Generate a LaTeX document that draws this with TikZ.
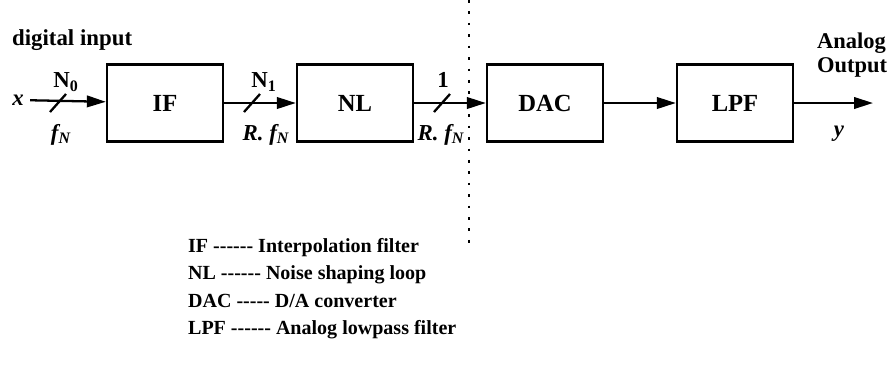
\documentclass[tikz,border=0pt]{standalone}
\usepackage{fontspec}
\newfontfamily\serif{Liberation Serif}
\usetikzlibrary{arrows.meta}

\begin{document}
\begin{tikzpicture}[
    x=0.2mm, y=-0.2mm,
    >={Triangle[length=3.8mm,width=2.3mm]},
    line width=1.3pt,
    every node/.style={font=\serif\bfseries, inner sep=0pt},
    block/.style={draw, minimum width=23.2mm, minimum height=15.4mm,
                  font=\serif\bfseries\fontsize{14}{16}\selectfont},
    lbl/.style={font=\serif\bfseries\fontsize{13}{15}\selectfont},
    sig/.style={font=\serif\bfseries\itshape\fontsize{13}{15}\selectfont},
    legend/.style={anchor=base west, font=\serif\bfseries\fontsize{11.4}{13}\selectfont}
]
  \useasboundingbox (0,0) rectangle (890,378);

  % blocks
  \node[block] (IF)  at (165,103) {IF};
  \node[block] (NL)  at (355,103) {NL};
  \node[block] (DAC) at (545,103) {DAC};
  \node[block] (LPF) at (735,103) {LPF};

  % ends
  \node[sig, inner sep=3pt] (x) at (18,100) {x};
  \coordinate (out) at (873,103);
  \node[lbl, anchor=west] (din) at (11,40) {digital input};
  \node[lbl, anchor=north west, align=left, font=\serif\bfseries\fontsize{12.8}{13.5}\selectfont]
       (aout) at (816,32) {Analog\\Output};
  \node[sig] (y) at (839,134) {y};

  % bus labels
  \node[lbl] (n0)  at (66,82)   {N\textsubscript{0}};
  \node[sig] (fn0) at (61,135)  {f\textsubscript{N}};
  \node[lbl] (n1)  at (264,82)  {N\textsubscript{1}};
  \node[sig] (fn1) at (266,135) {R. f\textsubscript{N}};
  \node[lbl] (n2)  at (443,80)  {1};
  \node[sig] (fn2) at (441,135) {R. f\textsubscript{N}};

  % edges
  \draw[->] (x) -- (IF);
  \draw[->] (IF) -- (NL);
  \draw[->] (NL) -- (DAC);
  \draw[->] (DAC) -- (LPF);
  \draw[->] (LPF) -- (out);

  % bus slashes
  \coordinate (s0) at (58,103);
  \coordinate (s1) at (252,103);
  \coordinate (s2) at (442,103);
  \draw (s0) ++(-8,9) -- ++(16,-18);
  \draw (s1) ++(-8,9) -- ++(16,-18);
  \draw (s2) ++(-8,9) -- ++(16,-18);

  % digital / analog border
  \coordinate (dtop) at (469,0);
  \coordinate (dbot) at (469,245);
  \draw[line width=1pt, dash pattern=on 1.5pt off 5pt] (dtop) -- (dbot);

  % legend
  \node[legend] (l1) at (187,252) {IF ------ Interpolation filter};
  \node[legend] (l2) at (187,279) {NL ------ Noise shaping loop};
  \node[legend] (l3) at (187,307) {DAC ----- D/A converter};
  \node[legend] (l4) at (187,334) {LPF ------ Analog lowpass filter};
\end{tikzpicture}
\end{document}
